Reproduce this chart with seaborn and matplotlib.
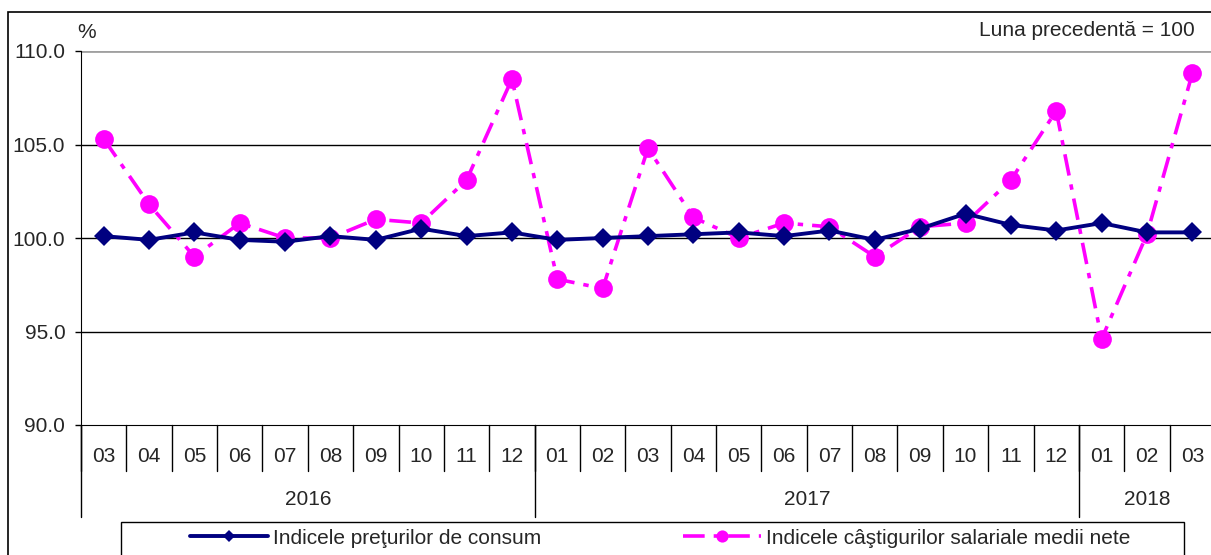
import numpy as np
import pandas as pd
import seaborn as sns
import matplotlib.pyplot as plt
from matplotlib.patches import Rectangle
from matplotlib.transforms import blended_transform_factory

# data
months = ['03', '04', '05', '06', '07', '08', '09', '10', '11', '12',
          '01', '02', '03', '04', '05', '06', '07', '08', '09', '10', '11', '12',
          '01', '02', '03']
years = ['2016', '2017', '2018']
year_counts = [10, 12, 3]
ipc = [100.1, 99.9, 100.3, 99.9, 99.8, 100.1, 99.9, 100.5, 100.1, 100.3,
       99.9, 100.0, 100.1, 100.2, 100.3, 100.1, 100.4, 99.9, 100.5, 101.3, 100.7, 100.4,
       100.8, 100.3, 100.3]
castig = [105.3, 101.8, 99.0, 100.8, 100.0, 100.0, 101.0, 100.8, 103.1, 108.5,
          97.8, 97.3, 104.8, 101.1, 100.0, 100.8, 100.6, 99.0, 100.6, 100.8, 103.1, 106.8,
          94.6, 100.2, 108.8]
label_ipc = 'Indicele preţurilor de consum'
label_castig = 'Indicele câştigurilor salariale medii nete'

sns.set_style('white')
plt.rcParams['font.family'] = ['Liberation Sans', 'DejaVu Sans']
fs = 15

df = pd.DataFrame({'idx': np.arange(len(months)), 'ipc': ipc, 'castig': castig})

fig = plt.figure(figsize=(12.11, 5.55), dpi=100)
ax = fig.add_axes([81 / 1211, 130 / 555, 1134 / 1211, 374 / 555])

ax.set_ylim(90, 110)
ax.set_xlim(-0.5, len(months) - 0.5)
ax.set_yticks([90, 95, 100, 105, 110])
ax.set_yticklabels(['90.0', '95.0', '100.0', '105.0', '110.0'], fontsize=fs)
ax.set_xticks([])
for yv in [95, 100, 105]:
    ax.axhline(yv, color='black', lw=1, zorder=1)
ax.axhline(110, color='#a0a0a0', lw=2, zorder=1)

sns.lineplot(data=df, x='idx', y='castig', ax=ax, color='#ff00ff', lw=2.6,
             linestyle=(0, (6, 2.5, 1.5, 2.5)), marker='o', markersize=13.5,
             markeredgewidth=0, label=label_castig, legend=False, zorder=3)
sns.lineplot(data=df, x='idx', y='ipc', ax=ax, color='#000080', lw=2.8,
             marker='D', markersize=10, markeredgewidth=0,
             label=label_ipc, legend=False, zorder=4)

for side in ['top', 'right']:
    ax.spines[side].set_visible(False)
ax.spines['left'].set_color('black')
ax.spines['bottom'].set_color('black')
ax.tick_params(axis='y', left=True, length=4.3, width=1, color='black', pad=7)
ax.set_xlabel('')
ax.set_ylabel('')

# category axis drawn below the plot
tr = blended_transform_factory(ax.transData, ax.transAxes)
for i, m in enumerate(months):
    ax.text(i, -0.083, m, transform=tr, ha='center', va='center', fontsize=fs)
    ax.plot([i - 0.5, i - 0.5], [0, -0.123], transform=tr, color='black', lw=1, clip_on=False)
start = 0
for y, n in zip(years, year_counts):
    ax.plot([start - 0.5, start - 0.5], [0, -0.246], transform=tr, color='black', lw=1, clip_on=False)
    ax.text(start + n / 2 - 0.5, -0.2, y, transform=tr, ha='center', va='center', fontsize=fs)
    start += n

ax.text(-0.003, 1.05, '%', transform=ax.transAxes, ha='left', va='center', fontsize=fs)
fig.text(1195 / 1211, 1 - 30 / 555, 'Luna precedentă = 100', ha='right', va='center', fontsize=fs)

# outer frame and legend box
fig.patches.append(Rectangle((8 / 1211, -0.1), 1.5, 1.1 - 12 / 555, fill=False,
                             lw=1.2, edgecolor='black', transform=fig.transFigure))
fig.patches.append(Rectangle((121 / 1211, -0.1), (1184 - 121) / 1211, 0.1 + 33 / 555,
                             fill=False, lw=1, edgecolor='black', transform=fig.transFigure))
h, l = ax.get_legend_handles_labels()
fig.legend(h[::-1], l[::-1], ncol=2, loc='center', bbox_to_anchor=(0.545, 17 / 555),
           frameon=False, fontsize=fs, handlelength=3.75, columnspacing=6.8,
           handletextpad=0.25, markerscale=0.65)

fig.savefig('out.png', dpi=100)
